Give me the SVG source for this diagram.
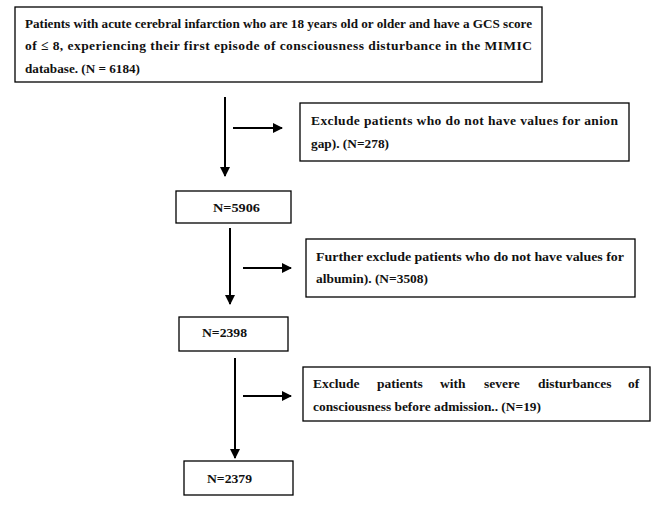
<svg xmlns="http://www.w3.org/2000/svg" width="669" height="507" viewBox="0 0 669 507">
<style>
.b{fill:#fff;stroke:#000;stroke-width:1.3}
text{font-family:"Liberation Serif","Times New Roman",serif;font-weight:bold;font-size:13.5px;fill:#111}
.c line{stroke:#000;stroke-width:2}
</style>
<defs><marker id="a" viewBox="0 0 10 10" refX="9" refY="5" markerWidth="5" markerHeight="5" orient="auto"><path d="M0,0L10,5L0,10z" fill="#000"/></marker></defs>
<rect width="669" height="507" fill="#fff"/>
<g id="n1"><rect class="b" x="15" y="7" width="527" height="75"/>
<text x="25" y="28" textLength="507" lengthAdjust="spacingAndGlyphs">Patients with acute cerebral infarction who are 18 years old or older and have a GCS score</text>
<text x="25" y="50" textLength="507" lengthAdjust="spacing">of ≤ 8, experiencing their first episode of consciousness disturbance in the MIMIC</text>
<text x="25" y="73" textLength="115" lengthAdjust="spacingAndGlyphs">database. (N = 6184)</text></g>
<g id="n2"><rect class="b" x="300" y="103" width="329" height="58"/>
<text x="311" y="125" textLength="307" lengthAdjust="spacing">Exclude patients who do not have values for anion</text>
<text x="311" y="148" textLength="78" lengthAdjust="spacingAndGlyphs">gap). (N=278)</text></g>
<g id="n3"><rect class="b" x="176" y="191" width="115" height="32"/><text x="213" y="212" textLength="47" lengthAdjust="spacingAndGlyphs">N=5906</text></g>
<g id="n4"><rect class="b" x="306" y="239" width="329" height="58"/>
<text x="316" y="261" textLength="308" lengthAdjust="spacingAndGlyphs">Further exclude patients who do not have values for</text>
<text x="316" y="283" textLength="112" lengthAdjust="spacingAndGlyphs">albumin). (N=3508)</text></g>
<g id="n5"><rect class="b" x="179" y="317" width="109" height="34"/><text x="202" y="337" textLength="45" lengthAdjust="spacingAndGlyphs">N=2398</text></g>
<g id="n6"><rect class="b" x="303" y="367" width="347" height="54"/>
<text y="388"><tspan x="313">Exclude</tspan> <tspan x="377">patients</tspan> <tspan x="440">with</tspan> <tspan x="484">severe</tspan> <tspan x="538">disturbances</tspan> <tspan x="628">of</tspan></text>
<text x="313" y="411" textLength="228" lengthAdjust="spacingAndGlyphs">consciousness before admission.. (N=19)</text></g>
<g id="n7"><rect class="b" x="184" y="461" width="109" height="34"/><text x="207" y="483" textLength="45" lengthAdjust="spacingAndGlyphs">N=2379</text></g>
<g class="c" id="connectors">
<line x1="225" y1="97" x2="225" y2="176" marker-end="url(#a)"/>
<line x1="233" y1="128" x2="282" y2="128" marker-end="url(#a)"/>
<line x1="230" y1="228" x2="230" y2="304" marker-end="url(#a)"/>
<line x1="243" y1="268" x2="291" y2="268" marker-end="url(#a)"/>
<line x1="235" y1="358" x2="235" y2="458" marker-end="url(#a)"/>
<line x1="243" y1="396" x2="291" y2="396" marker-end="url(#a)"/>
</g>
</svg>
